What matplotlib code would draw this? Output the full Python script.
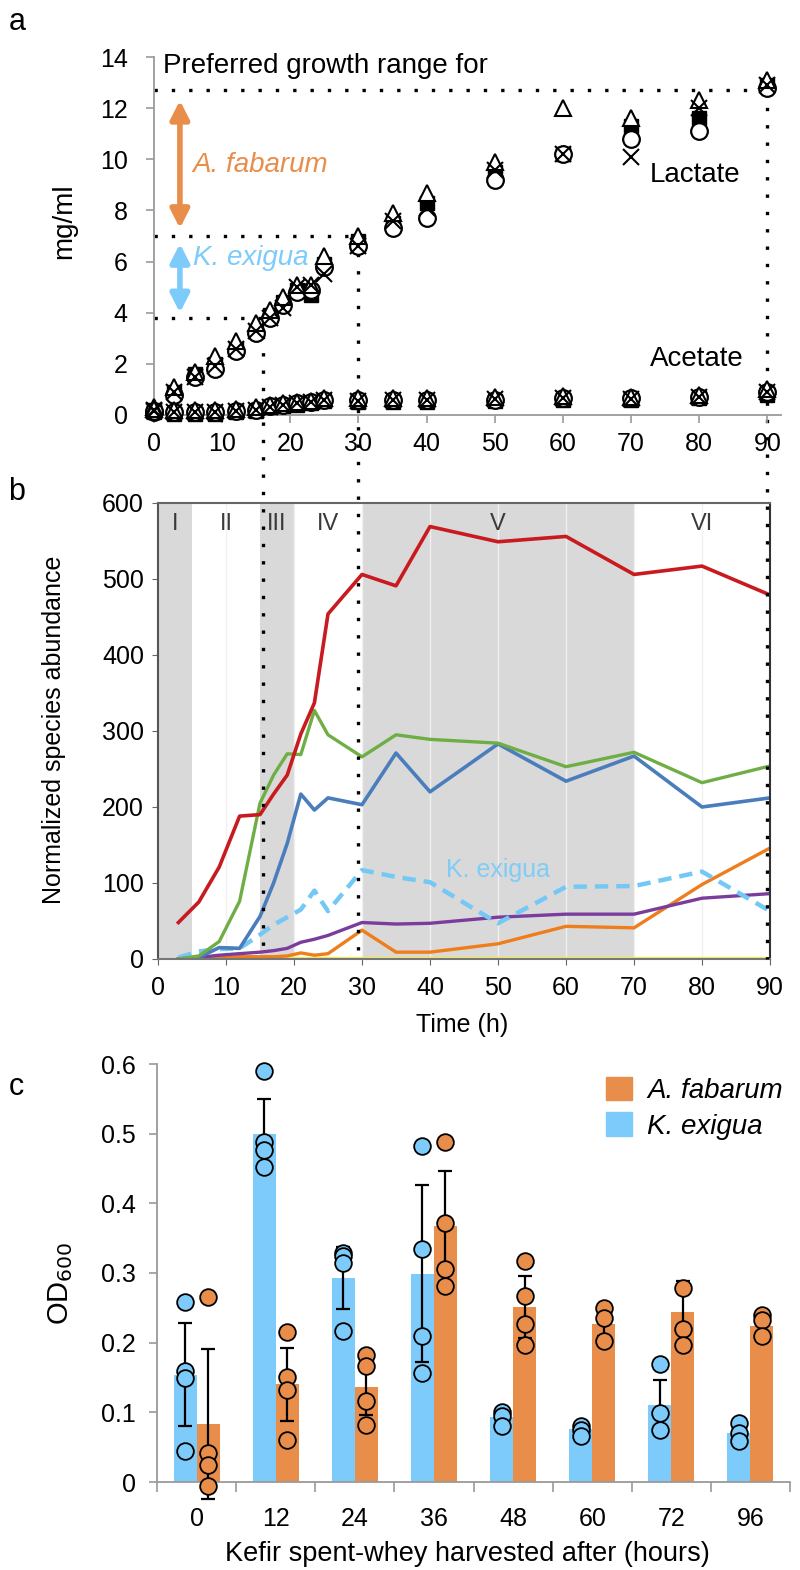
import matplotlib
matplotlib.use('Agg')
import matplotlib.pyplot as plt
from matplotlib.patches import Patch

plt.rcParams['font.family'] = ['Liberation Sans', 'DejaVu Sans']

# ---- panel a: lactate / acetate (mg/ml), four replicates drawn with different symbols ----
t_acid = [0, 3, 6, 9, 12, 15, 17, 19, 21, 23, 25, 30, 35, 40, 50, 60, 70, 80, 90]
lac_tri = [0.3, 1.1, 1.7, 2.3, 2.9, 3.6, 4.1, 4.6, 5.1, 5.1, 6.2, 7.0, 7.9, 8.7, 9.9, 12.0, 11.6, 12.3, 13.1]
lac_sq = [0.2, 0.9, 1.6, 2.0, 2.6, 3.3, 3.9, 4.4, 4.9, 4.7, 5.9, 6.8, 7.5, 8.3, 9.5, 10.2, 11.3, 11.6, 12.9]
lac_circ = [0.1, 0.8, 1.5, 1.8, 2.5, 3.2, 3.8, 4.3, 4.8, 4.9, 5.8, 6.6, 7.3, 7.7, 9.2, 10.2, 10.8, 11.1, 12.8]
lac_x = [0.2, 0.9, 1.5, 1.9, 2.6, 3.3, 3.8, 4.2, 5.0, 5.1, 5.5, 6.6, 7.6, 8.1, 9.6, 10.2, 10.1, 12.0, 12.9]
ace_tri = [0.25, 0.2, 0.2, 0.2, 0.25, 0.3, 0.4, 0.45, 0.5, 0.55, 0.65, 0.65, 0.65, 0.65, 0.7, 0.75, 0.7, 0.8, 1.0]
ace_sq = [0.1, 0.05, 0.05, 0.05, 0.1, 0.15, 0.3, 0.35, 0.4, 0.45, 0.55, 0.5, 0.5, 0.5, 0.55, 0.6, 0.6, 0.65, 0.8]
ace_circ = [0.15, 0.1, 0.1, 0.1, 0.15, 0.2, 0.35, 0.4, 0.45, 0.5, 0.6, 0.6, 0.6, 0.6, 0.6, 0.65, 0.65, 0.7, 0.9]
ace_x = [0.15, 0.1, 0.1, 0.1, 0.15, 0.2, 0.33, 0.38, 0.45, 0.5, 0.6, 0.55, 0.6, 0.6, 0.62, 0.65, 0.62, 0.72, 0.9]

# preferred growth ranges (mg/ml lactate) and the times at which they are reached
ke_range = [3.8, 7.0]    # K. exigua
af_range = [7.0, 12.7]   # A. fabarum
cut_levels = [3.8, 7.0, 12.7]
cut_times = [16, 30, 90]

# ---- panel b: normalized species abundance ----
t_seq = [3, 6, 9, 12, 15, 17, 19, 21, 23, 25, 30, 35, 40, 50, 60, 70, 80, 90]
sp_red = [48, 75, 121, 188, 190, 217, 242, 296, 337, 454, 506, 491, 569, 549, 556, 506, 517, 479]
sp_green = [0, 4, 23, 76, 205, 242, 270, 269, 327, 295, 266, 295, 289, 284, 253, 272, 232, 254]
sp_blue = [0, 2, 15, 14, 56, 100, 152, 217, 196, 212, 203, 271, 220, 283, 234, 267, 200, 212]
sp_kex = [2, 10, 13, 14, 32, 45, 55, 65, 90, 63, 117, 108, 101, 47, 95, 96, 115, 63]
sp_purple = [0, 2, 5, 7, 9, 11, 14, 22, 26, 31, 48, 46, 47, 55, 59, 59, 80, 86]
sp_orange = [0, 1, 2, 3, 3, 3, 4, 8, 5, 7, 38, 9, 9, 20, 43, 41, 98, 146]
sp_yellow = [1, 1, 1, 1, 1, 1, 1, 1, 1, 1, 1, 1, 1, 1, 1, 1, 1, 1]
phase_edges = [0, 5, 15, 20, 30, 70, 90]
phase_names = ['I', 'II', 'III', 'IV', 'V', 'VI']

# ---- panel c: OD600 on spent whey ----
hours = ['0', '12', '24', '36', '48', '60', '72', '96']
ke_mean = [0.154, 0.500, 0.293, 0.299, 0.093, 0.076, 0.110, 0.070]
ke_err = [0.074, 0.050, 0.045, 0.127, 0.008, 0.006, 0.037, 0.012]
af_mean = [0.083, 0.140, 0.136, 0.367, 0.251, 0.227, 0.244, 0.224]
af_err = [0.108, 0.053, 0.040, 0.080, 0.045, 0.017, 0.044, 0.010]
ke_pts = [[0.258, 0.160, 0.149, 0.044], [0.590, 0.488, 0.477, 0.452],
          [0.329, 0.324, 0.314, 0.217], [0.483, 0.334, 0.210, 0.156],
          [0.101, 0.095, 0.080], [0.080, 0.075, 0.066],
          [0.170, 0.099, 0.075], [0.084, 0.070, 0.059]]
af_pts = [[0.265, 0.042, 0.024, -0.006], [0.215, 0.151, 0.132, 0.060],
          [0.182, 0.166, 0.116, 0.082], [0.488, 0.372, 0.306, 0.281],
          [0.317, 0.267, 0.227, 0.197], [0.250, 0.236, 0.202],
          [0.279, 0.220, 0.196], [0.239, 0.233, 0.209]]

C_BLUE = '#7dcbfa'
C_ORANGE = '#e88d4a'

W, H = 800, 1570
fig = plt.figure(figsize=(W / 100, H / 100), dpi=100)


def box(l, t, r, b):
    return [l / W, 1 - b / H, (r - l) / W, (b - t) / H]


ax_a = fig.add_axes(box(154, 57, 781, 415))
ax_b = fig.add_axes(box(158, 503, 770, 959))
ax_c = fig.add_axes(box(157, 1064, 790, 1482))
ax_a.set_zorder(2)
ax_a.patch.set_alpha(0)

# ================= panel a =================
ax_a.set_xlim(0, 92)
ax_a.set_ylim(0, 14)
for s in ['top', 'right']:
    ax_a.spines[s].set_visible(False)
for s in ['left', 'bottom']:
    ax_a.spines[s].set_color('#9a9a9a')
    ax_a.spines[s].set_linewidth(1.3)
ax_a.set_xticks(range(0, 91, 10))
ax_a.set_yticks(range(0, 15, 2))
ax_a.tick_params(colors='#9a9a9a', labelcolor='black', labelsize=18, length=6, width=1.2)
ax_a.tick_params(axis='y', pad=13)
ax_a.tick_params(axis='x', pad=6)
ax_a.set_ylabel('mg/ml', fontsize=20)
ax_a.yaxis.set_label_coords(-0.122, 0.54)

for tri, sq, circ, xs in [(lac_tri, lac_sq, lac_circ, lac_x), (ace_tri, ace_sq, ace_circ, ace_x)]:
    ax_a.plot(t_acid, sq, ls='none', marker='s', ms=10, color='black', clip_on=False, zorder=3)
    ax_a.plot(t_acid, circ, ls='none', marker='o', ms=12, mfc='white', mec='black', mew=1.6,
              clip_on=False, zorder=3.1)
    ax_a.plot(t_acid, tri, ls='none', marker='^', ms=12, mfc='white', mec='black', mew=1.5,
              clip_on=False, zorder=3.2)
    ax_a.plot(t_acid, xs, ls='none', marker='x', ms=11, mec='black', mew=1.5,
              clip_on=False, zorder=3.3)

# dotted guide lines, the vertical ones run down to the bottom of panel b
dot = dict(color='black', lw=2.4, ls=(0, (1, 4.2)), dash_capstyle='butt', clip_on=False, zorder=1.5)
y_floor = ax_a.transData.inverted().transform(ax_b.transData.transform((0, 0)))[1]
for t_cut, lvl in zip(cut_times, cut_levels):
    ax_a.plot([0, t_cut], [lvl, lvl], **dot)
    ax_a.plot([t_cut, t_cut], [lvl, y_floor], **dot)

ax_a.text(1.3, 13.36, 'Preferred growth range for', fontsize=20, va='baseline')
ax_a.annotate('', xy=(3.8, af_range[1] - 0.4), xytext=(3.8, af_range[0] + 0.3),
              arrowprops=dict(arrowstyle='<|-|>,head_length=0.55,head_width=0.28', color=C_ORANGE,
                              lw=4, mutation_scale=20, shrinkA=0, shrinkB=0))
ax_a.annotate('', xy=(3.8, ke_range[1] - 0.3), xytext=(3.8, ke_range[0] + 0.2),
              arrowprops=dict(arrowstyle='<|-|>,head_length=0.55,head_width=0.28', color=C_BLUE,
                              lw=4, mutation_scale=20, shrinkA=0, shrinkB=0))
ax_a.text(5.7, 9.5, 'A. fabarum', fontsize=20, style='italic', color=C_ORANGE, va='baseline')
ax_a.text(5.7, 5.86, 'K. exigua', fontsize=20, style='italic', color=C_BLUE, va='baseline')
ax_a.text(72.7, 9.1, 'Lactate', fontsize=20, va='baseline')
ax_a.text(72.7, 1.9, 'Acetate', fontsize=20, va='baseline')

# ================= panel b =================
ax_b.set_xlim(0, 90)
ax_b.set_ylim(0, 600)
for i, name in enumerate(phase_names):
    lo, hi = phase_edges[i], phase_edges[i + 1]
    if i % 2 == 0:
        ax_b.axvspan(lo, hi, color='#d9d9d9', lw=0, zorder=0)
    ax_b.text((lo + hi) / 2, 573, name, ha='center', va='center', fontsize=17, color='#3a3a3a')
for gx in range(10, 90, 10):
    ax_b.axvline(gx, color='#f1f1f1', lw=1, zorder=0.5)

ax_b.plot(t_seq, sp_yellow, color='#f3ee5a', lw=2.4)
ax_b.plot(t_seq, sp_orange, color='#ee7d1b', lw=2.4)
ax_b.plot(t_seq, sp_purple, color='#7a3d9c', lw=2.4)
ax_b.plot(t_seq, sp_kex, color='#74c8f5', lw=3.2, ls=(0, (3, 1.8)))
ax_b.plot(t_seq, sp_blue, color='#4a7dbc', lw=2.6)
ax_b.plot(t_seq, sp_green, color='#6fae45', lw=2.4)
ax_b.plot(t_seq, sp_red, color='#c81a1f', lw=2.6)
ax_b.text(50, 117, 'K. exigua', fontsize=18, color='#7fcdf7', ha='center', va='center')

for s, c in zip(['left', 'top', 'bottom', 'right'], ['#555555', '#666666', '#777777', '#333333']):
    ax_b.spines[s].set_color(c)
    ax_b.spines[s].set_linewidth(1.5)
ax_b.set_xticks(range(0, 91, 10))
ax_b.set_yticks(range(0, 601, 100))
ax_b.tick_params(labelsize=18, length=4, color='#666666')
ax_b.tick_params(axis='y', pad=6)
ax_b.tick_params(axis='x', pad=8)
ax_b.set_xlabel('Time (h)', fontsize=18)
ax_b.xaxis.set_label_coords(0.497, -0.118)
ax_b.set_ylabel('Normalized species abundance', fontsize=18)
ax_b.yaxis.set_label_coords(-0.15, 0.502)

# ================= panel c =================
xs_c = list(range(len(hours)))
bw = 0.29
x_ke = [x - bw / 2 for x in xs_c]
x_af = [x + bw / 2 for x in xs_c]
ax_c.bar(x_ke, ke_mean, width=bw, color=C_BLUE, zorder=2)
ax_c.bar(x_af, af_mean, width=bw, color=C_ORANGE, zorder=2)
ax_c.errorbar(x_ke, ke_mean, yerr=ke_err, fmt='none', ecolor='black', elinewidth=1.6,
              capsize=5, capthick=1.6, zorder=3, clip_on=False)
ax_c.errorbar(x_af, af_mean, yerr=af_err, fmt='none', ecolor='black', elinewidth=1.6,
              capsize=5, capthick=1.6, zorder=3, clip_on=False)
for xk, xa, pk, pa in zip(x_ke, x_af, ke_pts, af_pts):
    ax_c.plot([xk] * len(pk), pk, ls='none', marker='o', ms=12, mfc=C_BLUE, mec='black',
              mew=1.3, zorder=4, clip_on=False)
    ax_c.plot([xa] * len(pa), pa, ls='none', marker='o', ms=12, mfc=C_ORANGE, mec='black',
              mew=1.3, zorder=4, clip_on=False)

ax_c.set_xlim(-0.5, len(hours) - 0.5)
ax_c.set_ylim(0, 0.6)
for s in ['top', 'right']:
    ax_c.spines[s].set_visible(False)
for s in ['left', 'bottom']:
    ax_c.spines[s].set_color('#9a9a9a')
    ax_c.spines[s].set_linewidth(1.3)
yt = [0, 0.1, 0.2, 0.3, 0.4, 0.5, 0.6]
ax_c.set_yticks(yt)
ax_c.set_yticklabels(['0', '0.1', '0.2', '0.3', '0.4', '0.5', '0.6'])
ax_c.set_xticks(xs_c)
ax_c.set_xticklabels(hours)
ax_c.set_xticks([x - 0.5 for x in range(len(hours) + 1)], minor=True)
ax_c.tick_params(axis='x', which='major', length=0, pad=18, labelsize=18)
ax_c.tick_params(axis='x', which='minor', length=7, width=1.2, color='#9a9a9a')
ax_c.tick_params(axis='y', length=6, width=1.2, color='#9a9a9a', labelsize=18, pad=9)
ax_c.set_xlabel('Kefir spent-whey harvested after (hours)', fontsize=19.5)
ax_c.xaxis.set_label_coords(0.49, -0.14)
ax_c.set_ylabel('OD$_{600}$', fontsize=21)
ax_c.yaxis.set_label_coords(-0.13, 0.476)

handles = [Patch(color=C_ORANGE), Patch(color=C_BLUE)]
ax_c.legend(handles, ['A. fabarum', 'K. exigua'], loc='upper left', bbox_to_anchor=(0.709, 0.97),
            frameon=False, prop={'size': 20, 'style': 'italic'}, handlelength=0.95, handleheight=0.95,
            handletextpad=0.55, labelspacing=0.3, borderpad=0, borderaxespad=0)

# panel letters
fig.text(17 / W, 1 - 22 / H, 'a', fontsize=22, ha='center', va='center')
fig.text(17 / W, 1 - 492 / H, 'b', fontsize=22, ha='center', va='center')
fig.text(16 / W, 1 - 1087 / H, 'c', fontsize=22, ha='center', va='center')

fig.savefig('out.png', dpi=100)
